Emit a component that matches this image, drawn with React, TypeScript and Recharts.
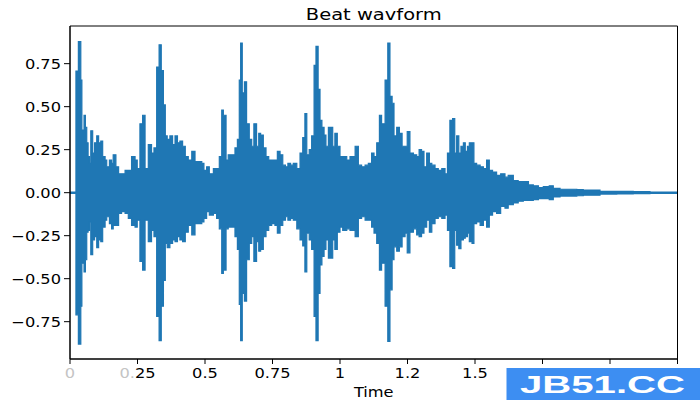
import React from "react";
import { ComposedChart, Area, XAxis, YAxis, ReferenceArea } from "recharts";

// Sample times (s) where the envelope of the beat waveform changes
const TIME_S = [
  0, 0.022, 0.031, 0.040, 0.044, 0.052, 0.057, 0.062, 0.067, 0.072,
  0.077, 0.084, 0.091, 0.099, 0.106, 0.114, 0.121, 0.130, 0.136, 0.146,
  0.154, 0.160, 0.170, 0.180, 0.191, 0.204, 0.216, 0.228, 0.241, 0.249,
  0.259, 0.269, 0.278, 0.290, 0.302, 0.311, 0.321, 0.330, 0.338, 0.346,
  0.353, 0.360, 0.370, 0.380, 0.389, 0.398, 0.407, 0.417, 0.427, 0.438,
  0.451, 0.463, 0.475, 0.488, 0.496, 0.506, 0.516, 0.531, 0.543, 0.553,
  0.562, 0.568, 0.578, 0.586, 0.599, 0.611, 0.620, 0.627, 0.632, 0.638,
  0.646, 0.654, 0.664, 0.673, 0.681, 0.691, 0.699, 0.706, 0.716, 0.726,
  0.736, 0.747, 0.759, 0.768, 0.778, 0.788, 0.798, 0.807, 0.817, 0.827,
  0.840, 0.852, 0.862, 0.870, 0.877, 0.886, 0.895, 0.904, 0.911, 0.919,
  0.926, 0.933, 0.941, 0.948, 0.957, 0.965, 0.973, 0.981, 0.990, 1.000,
  1.010, 1.025, 1.037, 1.056, 1.068, 1.080, 1.093, 1.105, 1.117, 1.126,
  1.136, 1.146, 1.154, 1.167, 1.177, 1.185, 1.193, 1.200, 1.210, 1.220,
  1.230, 1.241, 1.249, 1.259, 1.272, 1.284, 1.293, 1.302, 1.311, 1.321,
  1.331, 1.340, 1.352, 1.364, 1.377, 1.389, 1.398, 1.407, 1.417, 1.425,
  1.432, 1.440, 1.448, 1.457, 1.464, 1.472, 1.479, 1.489, 1.496, 1.506,
  1.519, 1.531, 1.543, 1.553, 1.565, 1.580, 1.595, 1.611, 1.623, 1.642,
  1.660, 1.679, 1.698, 1.716, 1.735, 1.753, 1.775, 1.790, 1.815, 1.840,
  1.877, 1.901, 1.963, 2.025, 2.086, 2.148, 2.25,
];

// Positive peak amplitude in each segment
const UPPER = [
  0.004, 0.707, 0.878, 0.655, 0.364, 0.45, 0.38, 0.29, 0.21, 0.17,
  0.36, 0.23, 0.29, 0.33, 0.29, 0.30, 0.21, 0.19, 0.15, 0.19,
  0.17, 0.22, 0.15, 0.11, 0.11, 0.13, 0.13, 0.21, 0.19, 0.14,
  0.40, 0.45, 0.14, 0.28, 0.23, 0.26, 0.73, 0.86, 0.71, 0.51,
  0.33, 0.31, 0.33, 0.28, 0.33, 0.29, 0.30, 0.27, 0.21, 0.19,
  0.24, 0.18, 0.18, 0.17, 0.13, 0.15, 0.11, 0.14, 0.14, 0.21,
  0.48, 0.45, 0.19, 0.22, 0.22, 0.26, 0.31, 0.655, 0.87, 0.58,
  0.645, 0.40, 0.31, 0.27, 0.40, 0.27, 0.345, 0.335, 0.26, 0.21,
  0.19, 0.19, 0.19, 0.24, 0.22, 0.16, 0.15, 0.17, 0.16, 0.17,
  0.14, 0.23, 0.32, 0.46, 0.22, 0.25, 0.33, 0.74, 0.85, 0.60,
  0.42, 0.38, 0.335, 0.27, 0.38, 0.38, 0.27, 0.345, 0.27, 0.21,
  0.21, 0.19, 0.21, 0.27, 0.16, 0.15, 0.16, 0.17, 0.23, 0.21,
  0.29, 0.45, 0.40, 0.655, 0.87, 0.56, 0.52, 0.33, 0.38, 0.345,
  0.27, 0.27, 0.355, 0.23, 0.22, 0.21, 0.25, 0.24, 0.15, 0.23,
  0.17, 0.16, 0.14, 0.13, 0.14, 0.11, 0.23, 0.42, 0.43, 0.23,
  0.33, 0.23, 0.27, 0.29, 0.24, 0.27, 0.29, 0.29, 0.17, 0.16,
  0.15, 0.14, 0.19, 0.13, 0.12, 0.10, 0.11, 0.09, 0.10, 0.07,
  0.065, 0.065, 0.045, 0.04, 0.03, 0.035, 0.04, 0.025, 0.02, 0.02,
  0.018, 0.015, 0.008, 0.007, 0.006, 0.004, 0.003,
];

// Negative peak amplitude in each segment
const LOWER = [
  -0.004, -0.71, -0.88, -0.66, -0.41, -0.46, -0.39, -0.23, -0.22, -0.17,
  -0.36, -0.275, -0.255, -0.32, -0.275, -0.285, -0.20, -0.16, -0.14, -0.18,
  -0.21, -0.19, -0.19, -0.12, -0.11, -0.12, -0.15, -0.19, -0.20, -0.16,
  -0.40, -0.45, -0.16, -0.285, -0.22, -0.255, -0.72, -0.86, -0.66, -0.51,
  -0.295, -0.32, -0.295, -0.275, -0.285, -0.255, -0.275, -0.285, -0.23, -0.19,
  -0.245, -0.18, -0.18, -0.17, -0.15, -0.11, -0.13, -0.12, -0.15, -0.21,
  -0.47, -0.45, -0.21, -0.20, -0.20, -0.255, -0.33, -0.65, -0.86, -0.585,
  -0.63, -0.39, -0.295, -0.255, -0.40, -0.285, -0.34, -0.33, -0.255, -0.22,
  -0.19, -0.18, -0.19, -0.235, -0.19, -0.16, -0.14, -0.16, -0.15, -0.16,
  -0.21, -0.275, -0.31, -0.46, -0.235, -0.275, -0.33, -0.72, -0.86, -0.585,
  -0.42, -0.37, -0.33, -0.275, -0.38, -0.38, -0.275, -0.33, -0.23, -0.20,
  -0.22, -0.21, -0.22, -0.255, -0.15, -0.14, -0.16, -0.16, -0.20, -0.235,
  -0.295, -0.45, -0.41, -0.66, -0.865, -0.565, -0.39, -0.315, -0.34, -0.315,
  -0.255, -0.235, -0.35, -0.23, -0.21, -0.245, -0.255, -0.235, -0.20, -0.16,
  -0.23, -0.18, -0.15, -0.14, -0.15, -0.13, -0.22, -0.43, -0.44, -0.22,
  -0.305, -0.325, -0.275, -0.265, -0.255, -0.235, -0.285, -0.295, -0.18, -0.17,
  -0.19, -0.16, -0.20, -0.13, -0.11, -0.12, -0.08, -0.09, -0.07, -0.06,
  -0.05, -0.045, -0.045, -0.04, -0.035, -0.035, -0.04, -0.025, -0.02, -0.02,
  -0.018, -0.015, -0.008, -0.007, -0.006, -0.004, -0.003,
];

const X_MAX = 2.25;
const Y_DOMAIN = [-0.967, 0.969];
const X_TICKS = [0, 0.25, 0.5, 0.75, 1, 1.25, 1.5, 1.75, 2, 2.25];
// the last three labels sit under the badge, so they stay blank
const X_TICK_LABELS = ["0", "0.25", "0.5", "0.75", "1", "1.2", "1.5", "", "", ""];
// leading characters of a few labels are printed light grey
const X_TICK_LIGHT_CHARS = [1, 2, 0, 0, 0, 0, 0, 0, 0, 0];
const Y_TICKS = [-0.75, -0.5, -0.25, 0, 0.25, 0.5, 0.75];

const TITLE = "Beat wavform";
const X_LABEL = "Time";
const BADGE = "JB51.CC";

const WAVE_COLOR = "#1f77b4";
const FONT = "'DejaVu Sans', sans-serif";
const STRETCH = 1.1667;

const rows = TIME_S.map((t, i) => ({ t, range: [LOWER[i], UPPER[i]] }));

function XTick(props: any) {
  const { x, y, payload } = props;
  const idx = X_TICKS.indexOf(payload.value);
  const label = idx >= 0 ? X_TICK_LABELS[idx] : String(payload.value);
  if (!label) return <g />;
  const light = idx >= 0 ? X_TICK_LIGHT_CHARS[idx] : 0;
  return (
    <text
      transform={`translate(${x},${y + 10.5}) scale(${STRETCH},1)`}
      textAnchor="middle"
      fontFamily={FONT}
      fontSize={13.9}
      fill="#000"
    >
      {light > 0 && <tspan fill="#c4c4c4">{label.slice(0, light)}</tspan>}
      <tspan>{label.slice(light)}</tspan>
    </text>
  );
}

function YTick(props: any) {
  const { x, y, payload } = props;
  const v = payload.value as number;
  const label = (v < 0 ? "\u2212" : "") + Math.abs(v).toFixed(2);
  return (
    <text
      transform={`translate(${x},${y + 5}) scale(${STRETCH},1)`}
      textAnchor="end"
      fontFamily={FONT}
      fontSize={13.9}
      fill="#000"
    >
      {label}
    </text>
  );
}

export default function App() {
  return (
    <div style={{ position: "absolute", left: 0, top: 0, width: 700, height: 400, background: "#fff" }}>
      <ComposedChart
        width={700}
        height={400}
        data={rows}
        margin={{ top: 26, right: 22.5, bottom: 0, left: 0 }}
      >
        <XAxis
          dataKey="t"
          type="number"
          domain={[0, X_MAX]}
          ticks={X_TICKS}
          allowDataOverflow
          height={41}
          tickSize={5}
          tickMargin={3.5}
          axisLine={{ stroke: "#000", strokeWidth: 1 }}
          tickLine={{ stroke: "#000", strokeWidth: 1 }}
          tick={<XTick />}
          interval={0}
        />
        <YAxis
          type="number"
          domain={Y_DOMAIN}
          ticks={Y_TICKS}
          allowDataOverflow
          width={70}
          tickSize={6}
          tickMargin={3}
          axisLine={{ stroke: "#000", strokeWidth: 1 }}
          tickLine={{ stroke: "#000", strokeWidth: 1 }}
          tick={<YTick />}
          interval={0}
        />
        <Area
          dataKey="range"
          type="stepAfter"
          stroke={WAVE_COLOR}
          strokeWidth={1.2}
          fill={WAVE_COLOR}
          fillOpacity={1}
          isAnimationActive={false}
          dot={false}
          activeDot={false}
        />
        {/* axes frame (all four spines) */}
        <ReferenceArea
          x1={0}
          x2={X_MAX}
          y1={Y_DOMAIN[0]}
          y2={Y_DOMAIN[1]}
          fill="none"
          fillOpacity={0}
          stroke="#000"
          strokeWidth={1}
          ifOverflow="visible"
        />
      </ComposedChart>
      <svg
        width={700}
        height={400}
        style={{ position: "absolute", left: 0, top: 0, pointerEvents: "none" }}
      >
        <text
          transform={`translate(373.75,20) scale(${STRETCH},1)`}
          textAnchor="middle"
          fontFamily={FONT}
          fontSize={16.7}
          fill="#000"
        >
          {TITLE}
        </text>
        <text
          transform={`translate(373.75,396.5) scale(${STRETCH},1)`}
          textAnchor="middle"
          fontFamily={FONT}
          fontSize={13.9}
          fill="#000"
        >
          {X_LABEL}
        </text>
        <rect x={506.5} y={368} width={193.5} height={32} fill="#3d8ef2" />
        <text
          x={520}
          y={393}
          textLength={165}
          lengthAdjust="spacingAndGlyphs"
          fontFamily="'Liberation Sans', Arial, sans-serif"
          fontWeight="bold"
          fontSize={23}
          fill="#fff"
        >
          {BADGE}
        </text>
      </svg>
    </div>
  );
}
